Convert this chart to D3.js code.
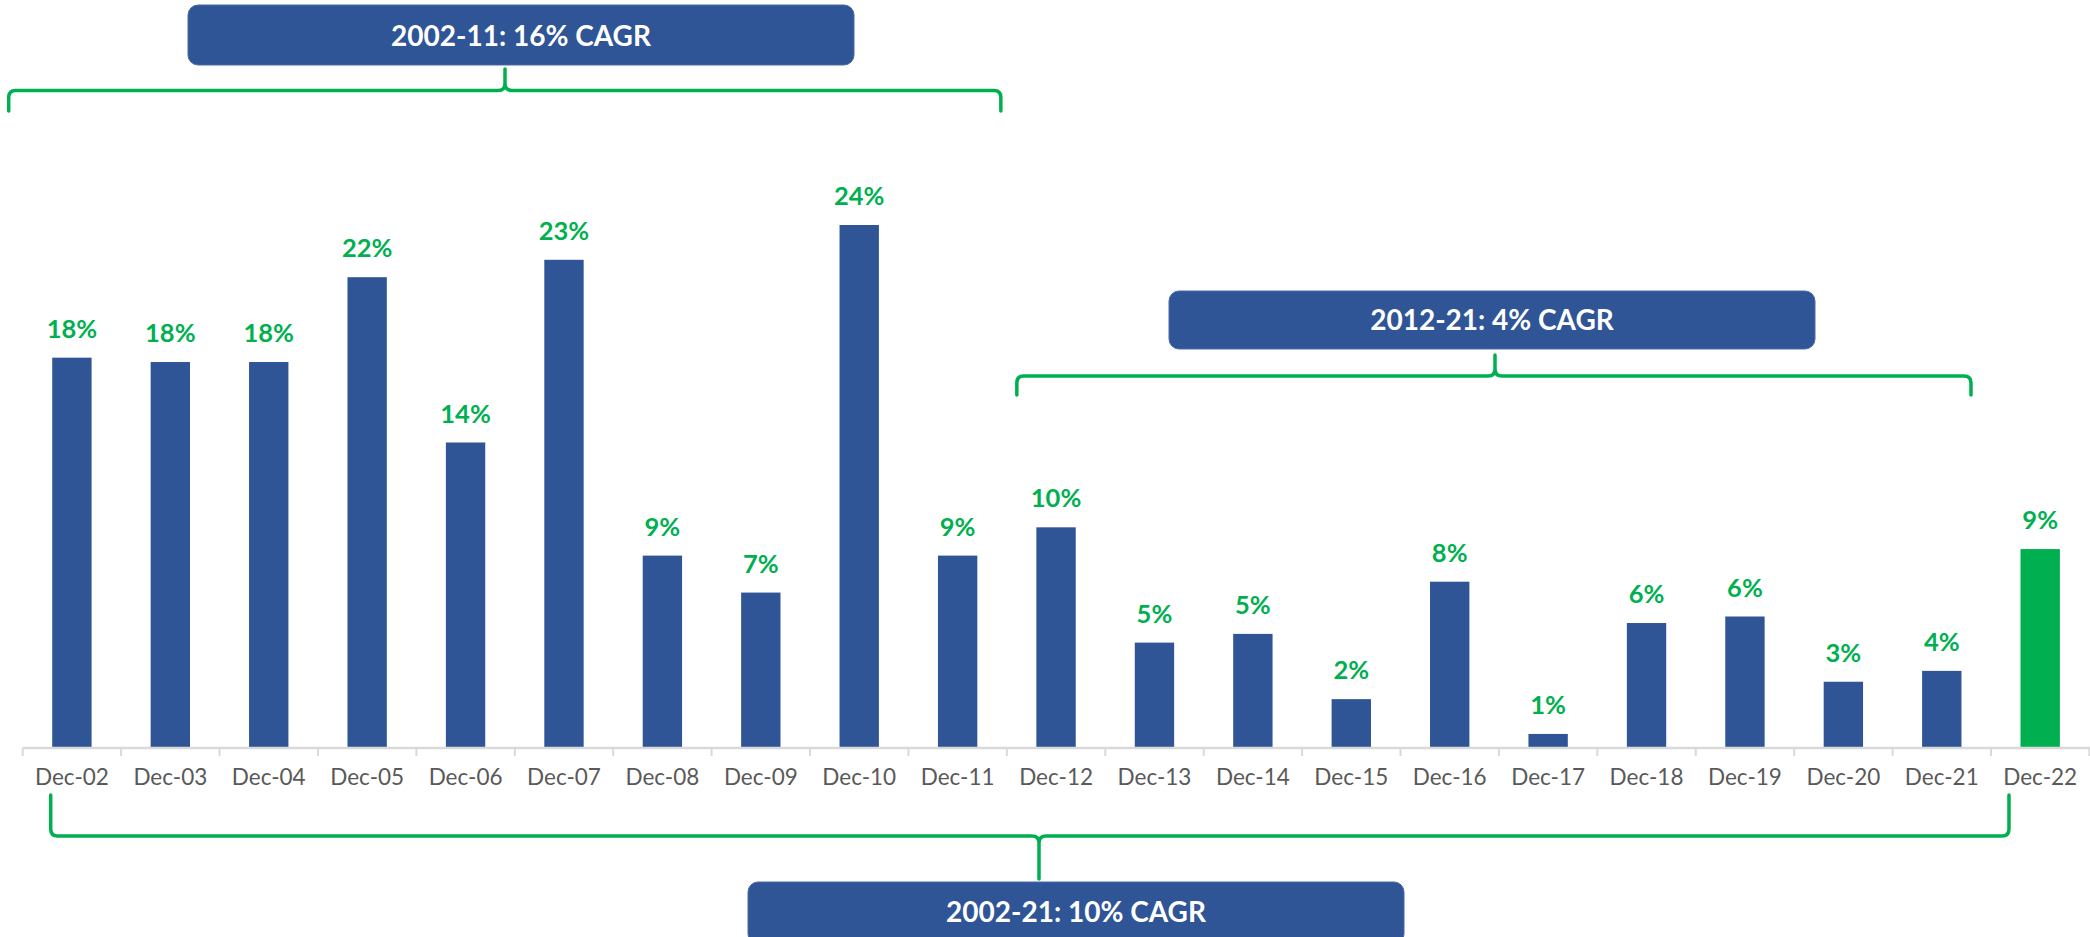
<!DOCTYPE html>
<html>
<head>
<meta charset="utf-8">
<script src="https://cdn.jsdelivr.net/npm/d3@7"></script>
<style>
  body { margin: 0; background: #fff; }
  svg { display: block; }
</style>
</head>
<body>
<div id="chart"></div>
<script>
// categories + yearly growth (%)
const years = ["Dec-02","Dec-03","Dec-04","Dec-05","Dec-06","Dec-07","Dec-08","Dec-09","Dec-10","Dec-11",
               "Dec-12","Dec-13","Dec-14","Dec-15","Dec-16","Dec-17","Dec-18","Dec-19","Dec-20","Dec-21","Dec-22"];
const growth = [17.9, 17.7, 17.7, 21.6, 14.0, 22.4, 8.8, 7.1, 24.0, 8.8,
                10.1, 4.8, 5.2, 2.2, 7.6, 0.6, 5.7, 6.0, 3.0, 3.5, 9.1];
const valueLabels = ["18%","18%","18%","22%","14%","23%","9%","7%","24%","9%",
                     "10%","5%","5%","2%","8%","1%","6%","6%","3%","4%","9%"];
const highlightYear = "Dec-22";

// CAGR call-outs: label, first and last category covered
const cagrLabels = ["2002-11: 16% CAGR", "2012-21: 4% CAGR", "2002-21: 10% CAGR"];
const cagrFrom = ["Dec-02", "Dec-12", "Dec-02"];
const cagrTo = ["Dec-11", "Dec-21", "Dec-21"];

// layout
const width = 2090;
const height = 937;
const baseY = 747;
const topY = 225;
const blue = "#2F5597";
const green = "#00B050";
const font = "Lato, 'Open Sans', sans-serif";

const svg = d3.select("#chart")
  .append("svg")
  .attr("width", width)
  .attr("height", height);

// scales
const x = d3.scaleBand()
  .domain(years)
  .range([22.7, 2089.4])
  .paddingInner(0.6)
  .paddingOuter(0.3);

const y = d3.scaleLinear()
  .domain([0, d3.max(growth)])
  .range([baseY, topY]);

const step = x.step();
const edge = c => x(c) - step * 0.3; // left boundary of a category slot

// bars
svg.selectAll(".bar")
  .data(years)
  .enter()
  .append("rect")
    .attr("class", "bar")
    .attr("x", d => x(d))
    .attr("width", x.bandwidth())
    .attr("y", (d, i) => y(growth[i]))
    .attr("height", (d, i) => baseY - y(growth[i]))
    .attr("fill", d => d === highlightYear ? green : blue);

// value labels
svg.selectAll(".val")
  .data(years)
  .enter()
  .append("text")
    .attr("class", "val")
    .attr("x", d => x(d) + x.bandwidth() / 2)
    .attr("y", (d, i) => y(growth[i]) - 20)
    .attr("text-anchor", "middle")
    .attr("font-family", font)
    .attr("font-weight", "bold")
    .attr("font-size", "25.5px")
    .attr("fill", green)
    .text((d, i) => valueLabels[i]);

// x axis (labels only, the boundary ticks are drawn below)
const xAxis = svg.append("g")
  .attr("transform", `translate(0,${baseY})`)
  .call(d3.axisBottom(x).tickSize(0).tickPadding(22));
xAxis.select(".domain").remove();
xAxis.selectAll("text")
  .attr("font-family", font)
  .attr("font-size", "22.5px")
  .attr("fill", "#595959");

svg.append("line")
  .attr("x1", edge(years[0]))
  .attr("x2", width)
  .attr("y1", baseY + 1)
  .attr("y2", baseY + 1)
  .attr("stroke", "#D9D9D9")
  .attr("stroke-width", 2.5);

const bounds = years.map(edge).concat([edge(years[years.length - 1]) + step]);
svg.selectAll(".tick-mark")
  .data(bounds)
  .enter()
  .append("line")
    .attr("x1", d => d).attr("x2", d => d)
    .attr("y1", baseY + 1).attr("y2", baseY + 9)
    .attr("stroke", "#D9D9D9")
    .attr("stroke-width", 2);

// curly brace path; tip points toward the box
function brace(x0, x1, xt, yH, yEnd, yTip, r) {
  const se = Math.sign(yEnd - yH), st = Math.sign(yTip - yH);
  return `M${x0},${yEnd} L${x0},${yH + se * r} Q${x0},${yH} ${x0 + r},${yH}` +
         ` L${xt - r},${yH} Q${xt},${yH} ${xt},${yH + st * r} L${xt},${yTip}` +
         ` L${xt},${yH + st * r} Q${xt},${yH} ${xt + r},${yH}` +
         ` L${x1 - r},${yH} Q${x1},${yH} ${x1},${yH + se * r} L${x1},${yEnd}`;
}

// annotation placement (pixel offsets from the category slots)
const notes = [
  {dx0: -14, dx1: -6, tip: 505, yH: 90.5, yEnd: 111, yTip: 69, box: [188, 5, 666, 60], ty: 46},
  {dx0: 10, dx1: -20, tip: 1495, yH: 376, yEnd: 395, yTip: 355, box: [1169, 291, 646, 58], ty: 330},
  {dx0: 28, dx1: 18, tip: 1039, yH: 836, yEnd: 795, yTip: 879, box: [748, 882, 656, 62], ty: 922}
];

notes.forEach((n, i) => {
  const x0 = edge(cagrFrom[i]) + n.dx0;
  const x1 = edge(cagrTo[i]) + step + n.dx1;
  svg.append("path")
    .attr("d", brace(x0, x1, n.tip, n.yH, n.yEnd, n.yTip, 7))
    .attr("fill", "none")
    .attr("stroke", green)
    .attr("stroke-width", 3.5)
    .attr("stroke-linejoin", "round")
    .attr("stroke-linecap", "round");

  svg.append("rect")
    .attr("x", n.box[0]).attr("y", n.box[1])
    .attr("width", n.box[2]).attr("height", n.box[3])
    .attr("rx", 10).attr("ry", 10)
    .attr("fill", blue)
    .attr("stroke", "#4A6BA8")
    .attr("stroke-width", 1);

  svg.append("text")
    .attr("x", n.box[0] + n.box[2] / 2)
    .attr("y", n.ty)
    .attr("text-anchor", "middle")
    .attr("font-family", font)
    .attr("font-weight", "bold")
    .attr("font-size", "28px")
    .attr("fill", "#fff")
    .text(cagrLabels[i]);
});
</script>
</body>
</html>
